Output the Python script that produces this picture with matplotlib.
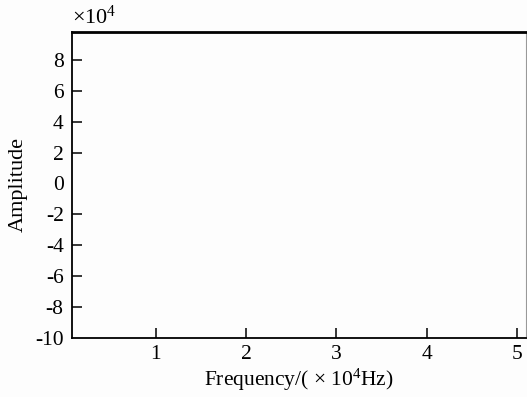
import matplotlib
matplotlib.use('Agg')
import matplotlib.pyplot as plt

# оси пустые, данные - только шкалы
x_ticks = [1, 2, 3, 4, 5]
y_ticks = [8, 6, 4, 2, 0, -2, -4, -6, -8, -10]
x_lim = (0.07, 5.1)
y_lim = (-10, 9.8)

plt.rcParams['font.family'] = ['Liberation Serif', 'DejaVu Serif']
plt.rcParams['mathtext.fontset'] = 'custom'
plt.rcParams['mathtext.rm'] = 'Liberation Serif'
plt.rcParams['mathtext.it'] = 'Liberation Serif'

fig = plt.figure(figsize=(5.27, 3.97), dpi=100)
fig.set_facecolor('#fdfdfd')
ax = fig.add_axes([72/527, 59/397, 454/527, 306/397])
ax.set_facecolor('#fdfdfd')

ax.set_xlim(*x_lim)
ax.set_ylim(*y_lim)
ax.set_xticks(x_ticks)
ax.set_yticks(y_ticks)
ax.set_yticklabels([str(v) for v in y_ticks])

ax.tick_params(axis='both', direction='in', labelsize=15.5, width=1.1,
               top=False, right=False)
ax.tick_params(axis='y', length=7, pad=6)
ax.tick_params(axis='x', length=7.5, pad=5)

# на нуле и на -10 штрихов нет
for t, v in zip(ax.yaxis.get_major_ticks(), y_ticks):
    if v in (0, -10):
        t.tick1line.set_visible(False)

ax.spines['left'].set_linewidth(1.3)
ax.spines['bottom'].set_linewidth(1.3)
ax.spines['top'].set_linewidth(2)
ax.spines['right'].set_linewidth(0.8)
ax.spines['right'].set_color('#999999')

ax.set_xlabel('Frequency/( \u00d7 10$^4$Hz)', fontsize=15.5, labelpad=2)
ax.set_ylabel('Amplitude', fontsize=16, labelpad=5)
fig.text(72/527, 1 - 17/397, '\u00d710$^4$', fontsize=16, va='center', ha='left')

fig.savefig('out.png', dpi=100, facecolor=fig.get_facecolor())
